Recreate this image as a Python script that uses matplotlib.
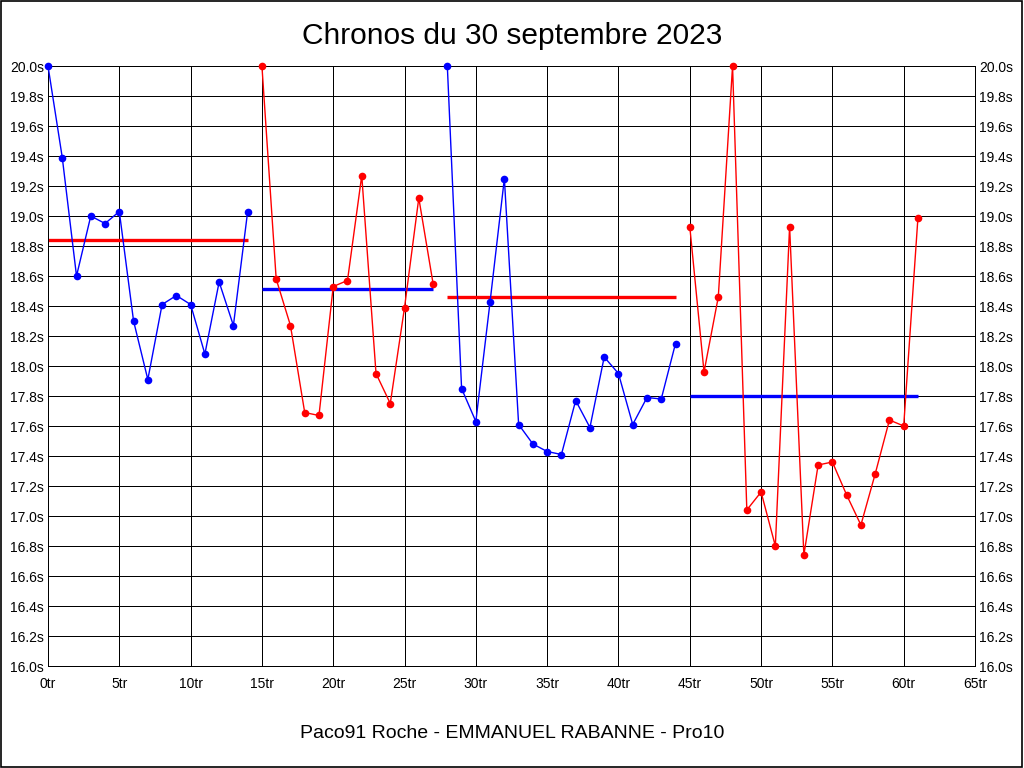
import matplotlib
matplotlib.use("Agg")
import matplotlib.pyplot as plt
from matplotlib.patches import Rectangle

# ---- data ----
laps_1 = list(range(0, 15))
times_1 = [20.00, 19.39, 18.60, 19.00, 18.95, 19.03, 18.30, 17.91, 18.41, 18.47,
           18.41, 18.08, 18.56, 18.27, 19.03]
mean_1 = 18.84

laps_2 = list(range(15, 28))
times_2 = [20.00, 18.58, 18.27, 17.69, 17.67, 18.53, 18.57, 19.27, 17.95, 17.75,
           18.39, 19.12, 18.55]
mean_2 = 18.51

laps_3 = list(range(28, 45))
times_3 = [20.00, 17.85, 17.63, 18.43, 19.25, 17.61, 17.48, 17.43, 17.41, 17.77,
           17.59, 18.06, 17.95, 17.61, 17.79, 17.78, 18.15]
mean_3 = 18.46

laps_4 = list(range(45, 62))
times_4 = [18.93, 17.96, 18.46, 20.00, 17.04, 17.16, 16.80, 18.93, 16.74, 17.34,
           17.36, 17.14, 16.94, 17.28, 17.64, 17.60, 18.99]
mean_4 = 17.80

series = [
    (laps_1, times_1, mean_1, "#0000ff", "#ff0000"),
    (laps_2, times_2, mean_2, "#ff0000", "#0000ff"),
    (laps_3, times_3, mean_3, "#0000ff", "#ff0000"),
    (laps_4, times_4, mean_4, "#ff0000", "#0000ff"),
]

x_ticks = list(range(0, 66, 5))
x_labels = [f"{v}tr" for v in x_ticks]
y_ticks = [16.0 + 0.2 * i for i in range(21)]
y_labels = [f"{v:.1f}s" for v in y_ticks]

title = "Chronos du 30 septembre 2023"
subtitle = "Paco91 Roche - EMMANUEL RABANNE - Pro10"

# ---- figure ----
fig = plt.figure(figsize=(10.24, 7.68), dpi=100)
fig.patch.set_facecolor("white")
fig.patches.append(Rectangle((0.0005, 0.0007), 0.998, 0.998, transform=fig.transFigure,
                             fill=False, edgecolor="black", linewidth=1.2))

ax = fig.add_axes([48 / 1024, 1 - 666 / 768, (975 - 48) / 1024, 600 / 768])
ax.set_xlim(0, 65)
ax.set_ylim(16.0, 20.0)

tick_font = ["Liberation Sans Narrow", "Liberation Sans", "DejaVu Sans"]

ax.set_xticks(x_ticks)
ax.set_xticklabels(x_labels, fontfamily=tick_font, fontsize=10)
ax.set_yticks(y_ticks)
ax.set_yticklabels(y_labels, fontfamily=tick_font, fontsize=10)
ax.tick_params(axis="both", length=0, colors="black")
ax.tick_params(axis="x", pad=8)
ax.tick_params(axis="y", left=True, right=True, labelleft=True, labelright=True, pad=3)

ax.grid(True, color="black", linewidth=0.72, antialiased=False)
ax.set_axisbelow(True)
for sp in ax.spines.values():
    sp.set_color("black")
    sp.set_linewidth(0.72)
    sp.set_antialiased(False)

for laps, times, mean, col, mcol in series:
    ax.plot(laps, times, color=col, linewidth=1.0, marker="o", markersize=5.5,
            markeredgewidth=0, zorder=3, clip_on=False)
    ax.plot([laps[0], laps[-1]], [mean, mean], color=mcol, linewidth=2.4,
            solid_capstyle="butt", zorder=2)

fig.text(0.5, 1 - 36 / 768, title, ha="center", va="center",
         fontfamily=["Liberation Sans", "DejaVu Sans"], fontsize=21.5)
fig.text(0.5, 1 - 733 / 768, subtitle, ha="center", va="center",
         fontfamily=["Liberation Sans", "DejaVu Sans"], fontsize=14)

fig.savefig("out.png", dpi=100)
